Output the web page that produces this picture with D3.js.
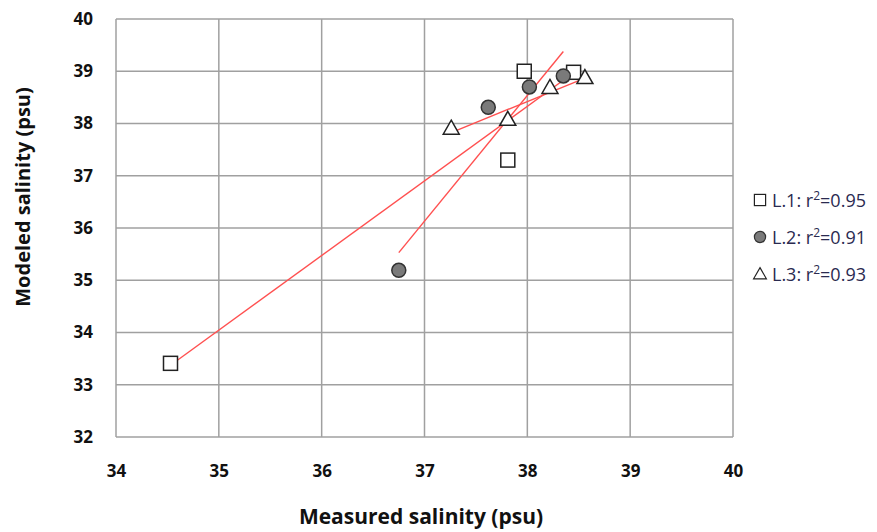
<html>
<head>
<script src="https://d3js.org/d3.v7.min.js"></script>
<style>
body { margin: 0; background: #fff; }
text { font-family: "Open Sans", sans-serif; }
.tick text { font-weight: bold; font-size: 17px; fill: #111; }
.title { font-weight: bold; font-size: 20px; fill: #111; }
.xtitle { font-size: 21px; }
.legend text { font-size: 18px; fill: #2a2a50; }
</style>
</head>
<body>
<svg width="877" height="532"></svg>
<script>
const xTicks = [34, 35, 36, 37, 38, 39, 40];
const yTicks = [32, 33, 34, 35, 36, 37, 38, 39, 40];

// measured (x) and modeled (y) salinity per line
const l1x = [34.53, 37.97, 37.81, 38.45];
const l1y = [33.41, 39.00, 37.30, 38.98];
const l2x = [36.75, 37.62, 38.02, 38.35];
const l2y = [35.19, 38.31, 38.70, 38.91];
const l3x = [37.26, 37.81, 38.22, 38.56];
const l3y = [37.91, 38.08, 38.69, 38.88];
const names = ['L.1: r', 'L.2: r', 'L.3: r'];
const r2 = ['0.95', '0.91', '0.93'];

const series = [
  { x: l1x, y: l1y, shape: 'square' },
  { x: l2x, y: l2y, shape: 'circle' },
  { x: l3x, y: l3y, shape: 'triangle' }
];

const svg = d3.select('svg');
const x = d3.scaleLinear().domain([34, 40]).range([116, 733]);
const y = d3.scaleLinear().domain([32, 40]).range([437, 19]);

// grid
svg.append('g').selectAll('line').data(xTicks).join('line')
  .attr('x1', d => x(d)).attr('x2', d => x(d))
  .attr('y1', y(32)).attr('y2', y(40))
  .attr('stroke', '#a0a0a0').attr('stroke-width', 1.5);
svg.append('g').selectAll('line').data(yTicks).join('line')
  .attr('y1', d => y(d)).attr('y2', d => y(d))
  .attr('x1', x(34)).attr('x2', x(40))
  .attr('stroke', '#a0a0a0').attr('stroke-width', 1.5);

// axes (labels only)
svg.append('g').attr('transform', `translate(0,${y(32)})`)
  .call(d3.axisBottom(x).tickValues(xTicks).tickSize(0).tickPadding(28).tickFormat(d3.format('d')));
svg.append('g').attr('transform', `translate(${x(34)},0)`)
  .call(d3.axisLeft(y).tickValues(yTicks).tickSize(0).tickPadding(23).tickFormat(d3.format('d')));
svg.selectAll('.domain').remove();

svg.append('text').attr('class', 'title xtitle').attr('x', 421).attr('y', 524)
  .attr('text-anchor', 'middle').text('Measured salinity (psu)');
svg.append('text').attr('class', 'title')
  .attr('transform', 'translate(30,197) rotate(-90)')
  .attr('text-anchor', 'middle').text('Modeled salinity (psu)');

function fit(xs, ys) {
  const mx = d3.mean(xs), my = d3.mean(ys);
  let sxy = 0, sxx = 0;
  xs.forEach((v, i) => { sxy += (v - mx) * (ys[i] - my); sxx += (v - mx) * (v - mx); });
  const b = sxy / sxx;
  return v => my + b * (v - mx);
}

// trend lines
series.forEach(s => {
  const f = fit(s.x, s.y);
  const [a, b] = d3.extent(s.x);
  svg.append('line')
    .attr('x1', x(a)).attr('y1', y(f(a)))
    .attr('x2', x(b)).attr('y2', y(f(b)))
    .attr('stroke', '#ff5050').attr('stroke-width', 1.4);
});

function marker(g, shape) {
  if (shape === 'square') {
    g.append('rect').attr('x', -7).attr('y', -7).attr('width', 14).attr('height', 14)
      .attr('fill', '#fff').attr('stroke', '#222').attr('stroke-width', 1.5);
  } else if (shape === 'circle') {
    g.append('circle').attr('r', 7)
      .attr('fill', '#7a7a7a').attr('stroke', '#333').attr('stroke-width', 1.5);
  } else {
    g.append('path').attr('d', 'M0,-8L8,6L-8,6Z')
      .attr('fill', '#fff').attr('stroke', '#222').attr('stroke-width', 1.5);
  }
}

series.forEach(s => {
  s.x.forEach((v, i) => {
    const g = svg.append('g').attr('transform', `translate(${x(v)},${y(s.y[i])})`);
    marker(g, s.shape);
  });
});

// legend
const lg = svg.append('g').attr('class', 'legend');
series.forEach((s, i) => {
  const g = lg.append('g').attr('transform', `translate(760,${200 + i * 37})`);
  const m = g.append('g').attr('transform', 'scale(0.8)');
  marker(m, s.shape);
  const t = g.append('text').attr('x', 12).attr('y', 6.5);
  t.append('tspan').text(names[i]);
  t.append('tspan').attr('dy', -7).attr('font-size', 12).text('2');
  t.append('tspan').attr('dy', 7).text('=' + r2[i]);
});
</script>
</body>
</html>
